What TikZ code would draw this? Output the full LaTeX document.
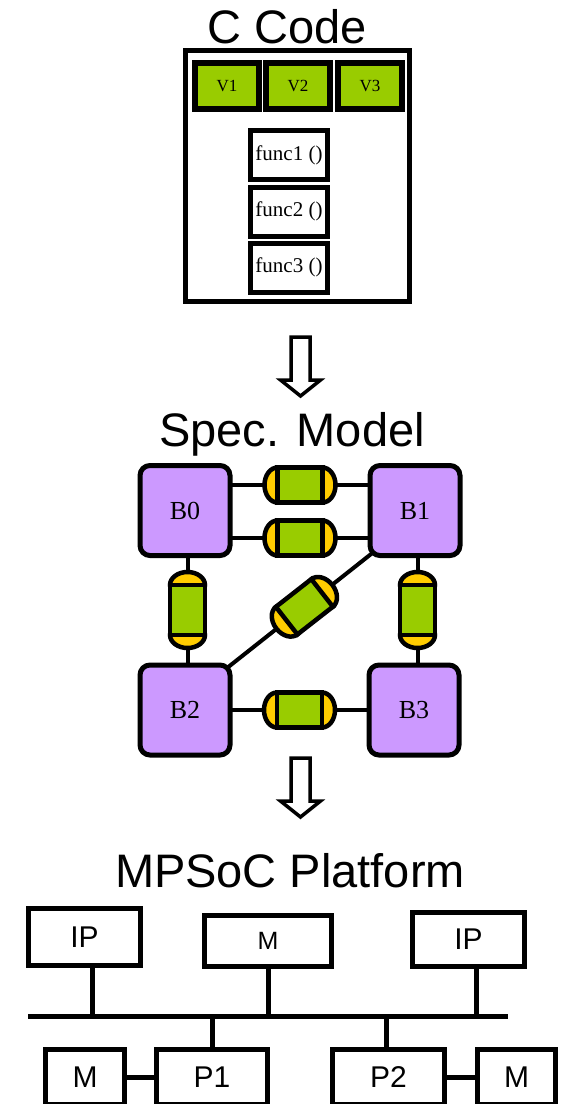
\documentclass[tikz,border=0pt]{standalone}
\usepackage{fontspec}
\setmainfont{Liberation Serif}
\newfontfamily\arialfont{Liberation Sans}
\usetikzlibrary{backgrounds,calc}

\definecolor{chgreen}{HTML}{99CC00}
\definecolor{chyellow}{HTML}{FFCC00}
\definecolor{blkpurple}{HTML}{CC99FF}

\tikzset{
  title/.style={font=\arialfont\fontsize{47}{56}\selectfont, anchor=base, inner sep=0pt},
  codebox/.style={draw, line width=5pt, inner sep=0pt, outer sep=0pt},
  varbox/.style={draw, line width=6pt, fill=chgreen, minimum width=64pt, minimum height=46pt,
    inner sep=0pt, outer sep=0pt, font=\fontsize{17}{20}\selectfont},
  funcbox/.style={draw, line width=5pt, fill=white, minimum width=77pt, minimum height=49pt,
    inner sep=0pt, outer sep=0pt, font=\fontsize{21}{24}\selectfont},
  block/.style={draw, line width=5pt, fill=blkpurple, rounded corners=10pt, minimum size=90pt,
    inner sep=0pt, outer sep=0pt, font=\fontsize{26}{30}\selectfont},
  hw/.style={draw, line width=5pt, fill=white, inner sep=0pt, outer sep=0pt,
    font=\arialfont\fontsize{30}{36}\selectfont},
  link/.style={line width=4pt},
  wire/.style={line width=5pt},
  bigarrow/.style={draw, line width=3.5pt, fill=white, line join=miter},
  % FIFO channel: green body with yellow end caps
  pics/chan/.style={code={
    \path[draw, line width=4.5pt, fill=chyellow] (-#1,0) ellipse [x radius=13pt, y radius=17.5pt];
    \path[draw, line width=4.5pt, fill=chyellow] (#1,0) ellipse [x radius=13pt, y radius=17.5pt];
    \path[draw, line width=4.5pt, fill=chgreen] (-#1,-17.5) rectangle (#1,17.5);
  }},
  % hollow downward refinement arrow
  pics/downarrow/.style={code={
    \path[bigarrow] (-9.5,0) -- (9.5,0) -- (9.5,43) -- (20,43) -- (0,59) -- (-20,43) -- (-9.5,43) -- cycle;
  }}
}

\begin{document}
\begin{tikzpicture}[x=1pt, y=-1pt]
\path[use as bounding box, clip] (0,0) rectangle (561,1104);

% ---------- C code ----------
\node[title] (tCode) at (287.5,43.5) {C Code};
\node[codebox, minimum width=224pt, minimum height=250.5pt] (code) at (297.5,175.75) {};
\node[varbox] (V1) at (227,86) {V1};
\node[varbox] (V2) at (298,86) {V2};
\node[varbox] (V3) at (370,86) {V3};
\node[funcbox] (F1) at (289,155) {func1 ()};
\node[funcbox] (F2) at (289,211.5) {func2 ()};
\node[funcbox] (F3) at (289,267.5) {func3 ()};

\pic at (300.5,337) {downarrow};

% ---------- specification model ----------
\node[title] (tSpec) at (292,446) {Spec. Model};
\node[block] (B0) at (185,510.5) {B0};
\node[block] (B1) at (415,510.5) {B1};
\node[block] (B2) at (185,710) {B2};
\node[block] (B3) at (414,710) {B3};

\coordinate (c01a) at (300,485);
\coordinate (c01b) at (300,538);
\coordinate (c02) at (187.5,610);
\coordinate (c13) at (417.5,610);
\coordinate (c23) at ($(B2.east)!0.5!(B3.west)$);
\coordinate (d2) at ($(B2.north east)+(-3,3)$);
\coordinate (d1) at ($(B1.south west)+(3,-3)$);
\coordinate (c12) at ($(d2)!0.53!(d1)$);

\begin{pgfonlayer}{background}
  \draw[link] (B0.east |- c01a) -- (B1.west |- c01a);
  \draw[link] (B0.east |- c01b) -- (B1.west |- c01b);
  \draw[link] (B0.south -| c02) -- (B2.north -| c02);
  \draw[link] (B1.south -| c13) -- (B3.north -| c13);
  \draw[link] (B2.east) -- (B3.west);
  \draw[link] (d2) -- (d1);
\end{pgfonlayer}

\pic at (c01a) {chan=22.5};
\pic at (c01b) {chan=22.5};
\pic[rotate=90] at (c02) {chan=25};
\pic[rotate=90] at (c13) {chan=25};
\pic at (c23) {chan=22.5};
\pic[rotate=38] at (c12) {chan=22.5};

\pic at (300.5,758) {downarrow};

% ---------- MPSoC platform ----------
\node[title] (tPlat) at (290,887) {MPSoC Platform};
\node[hw, minimum width=112pt, minimum height=57pt] (IPL) at (84.5,937) {IP};
\node[hw, minimum width=127pt, minimum height=51pt, font=\arialfont\fontsize{25}{30}\selectfont] (MT) at (268,941) {M};
\node[hw, minimum width=112pt, minimum height=54pt] (IPR) at (468.5,939.5) {IP};

\node[hw, minimum width=79pt, minimum height=55pt] (ML) at (85,1077) {M};
\node[hw, minimum width=111pt, minimum height=55pt] (P1) at (212,1077) {P1};
\node[hw, minimum width=112pt, minimum height=55pt] (P2) at (388.5,1077) {P2};
\node[hw, minimum width=78pt, minimum height=55pt] (MR) at (516.5,1077) {M};

\coordinate (busL) at (28,1016.5);
\coordinate (busR) at (508,1016.5);
\coordinate (tIPL) at (92.5,1016.5);
\coordinate (tMT) at (268,1016.5);
\coordinate (tIPR) at (476.5,1016.5);
\coordinate (tP1) at (212,1016.5);
\coordinate (tP2) at (386,1016.5);

\draw[wire] (busL) -- (busR);
\draw[wire] (tIPL |- IPL.south) -- (tIPL);
\draw[wire] (MT.south) -- (tMT);
\draw[wire] (tIPR |- IPR.south) -- (tIPR);
\draw[wire] (tP1) -- (tP1 |- P1.north);
\draw[wire] (tP2) -- (tP2 |- P2.north);
\draw[wire] (ML.east) -- (P1.west);
\draw[wire] (P2.east) -- (MR.west);
\end{tikzpicture}
\end{document}
